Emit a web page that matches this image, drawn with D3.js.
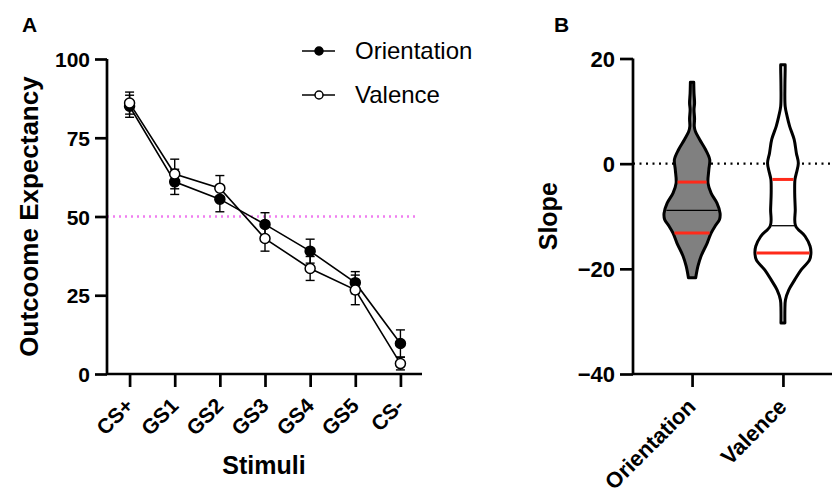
<!DOCTYPE html>
<html>
<head>
<meta charset="utf-8">
<script src="https://cdn.jsdelivr.net/npm/d3@7"></script>
<style>
  body { margin: 0; background: #fff; }
  text { font-family: "Liberation Sans", Arial, sans-serif; fill: #000; }
</style>
</head>
<body>
<div id="chart"></div>
<script>
// panel A data
const stimuli = ["CS+", "GS1", "GS2", "GS3", "GS4", "GS5", "CS-"];
const orientationMean = [85, 61, 55.5, 47.5, 39, 29, 9.7];
const orientationErr = [3.5, 4, 4, 3.7, 3.8, 3.5, 4.3];
const valenceMean = [86, 63.5, 59, 43, 33.5, 26.7, 3.3];
const valenceErr = [3.5, 4.7, 4, 4, 3.8, 4.7, 2.0];
const yTicksA = [0, 25, 50, 75, 100];

// panel B data (violin outlines: value, relative density)
const groups = ["Orientation", "Valence"];
const orientationViolin = [
  [15.5, 0.06], [13.4, 0.07], [11.5, 0.09], [10.3, 0.07], [8.5, 0.09],
  [7.1, 0.08], [6.1, 0.12], [4.6, 0.27], [2.7, 0.48], [0.8, 0.63],
  [-1.1, 0.60], [-3.7, 0.57], [-5.6, 0.68], [-7.5, 0.89], [-9.4, 1.0],
  [-10.6, 0.98], [-11.9, 0.82], [-13.2, 0.68], [-15.1, 0.54], [-17.6, 0.32],
  [-19.5, 0.21], [-21.7, 0.13]
];
const valenceViolin = [
  [18.8, 0.08], [17.9, 0.08], [14.7, 0.07], [10.9, 0.08], [9.0, 0.15],
  [7.1, 0.24], [4.6, 0.40], [2.0, 0.48], [0.1, 0.55], [-1.8, 0.48],
  [-3.0, 0.43], [-5.6, 0.42], [-8.7, 0.44], [-11.8, 0.45], [-13.8, 0.79],
  [-15.7, 0.97], [-17.0, 1.0], [-18.3, 0.95], [-20.2, 0.65], [-22.1, 0.42],
  [-24.0, 0.21], [-25.9, 0.09], [-27.8, 0.07], [-30.3, 0.07]
];
const medians = [-8.9, -11.8];
const quartiles = [[-3.5, -13.2], [-3.0, -17.0]];
const yTicksB = [-40, -20, 0, 20];

const width = 832, height = 495;
const svg = d3.select("#chart").append("svg")
  .attr("width", width).attr("height", height);

// ---------- panel A ----------
const xA = d3.scalePoint().domain(stimuli).range([107, 423]).padding(0.5);
const yA = d3.scaleLinear().domain([0, 100]).range([374, 59]);

const gA = svg.append("g");

gA.append("line")
  .attr("x1", 107).attr("x2", 418)
  .attr("y1", yA(50)).attr("y2", yA(50))
  .attr("stroke", "#f07ef0").attr("stroke-width", 2.5)
  .attr("stroke-dasharray", "2,4");

const yAxisA = gA.append("g").attr("transform", "translate(107,0)")
  .call(d3.axisLeft(yA).tickValues(yTicksA).tickSize(12).tickPadding(5));
const xAxisA = gA.append("g").attr("transform", "translate(0,374)")
  .call(d3.axisBottom(xA).tickSize(13).tickFormat(""));

[yAxisA, xAxisA].forEach(ax => {
  ax.select(".domain").attr("stroke-width", 2.7);
  ax.selectAll(".tick line").attr("stroke-width", 2.7);
});
yAxisA.select(".domain").attr("d", "M0,59V374");
xAxisA.select(".domain").attr("d", "M107,0H422");
yAxisA.selectAll(".tick text")
  .style("font-size", "21px").style("font-weight", "bold").attr("dy", "0.36em");

gA.selectAll(".xlab").data(stimuli).join("text")
  .attr("transform", d => `translate(${xA(d) + 5},407) rotate(-45)`)
  .attr("text-anchor", "end")
  .style("font-size", "21px").style("font-weight", "bold")
  .text(d => d);

gA.append("text")
  .attr("transform", `translate(38,${(59 + 374) / 2}) rotate(-90)`)
  .attr("text-anchor", "middle")
  .style("font-size", "26px").style("font-weight", "bold")
  .text("Outcoome Expectancy");

gA.append("text")
  .attr("x", 264).attr("y", 474).attr("text-anchor", "middle")
  .style("font-size", "25px").style("font-weight", "bold")
  .text("Stimuli");

const line = d3.line().x(d => xA(d.s)).y(d => yA(d.m));
const series = [
  { name: "Orientation", mean: orientationMean, err: orientationErr, fill: "#000" },
  { name: "Valence", mean: valenceMean, err: valenceErr, fill: "#fff" }
];

series.forEach(s => {
  const pts = stimuli.map((st, i) => ({ s: st, m: s.mean[i], e: s.err[i] }));
  gA.append("path").datum(pts)
    .attr("fill", "none").attr("stroke", "#000").attr("stroke-width", 1.6)
    .attr("d", line);
  const eb = gA.append("g").selectAll("g").data(pts).join("g");
  eb.append("line")
    .attr("x1", d => xA(d.s)).attr("x2", d => xA(d.s))
    .attr("y1", d => yA(d.m - d.e)).attr("y2", d => yA(d.m + d.e))
    .attr("stroke", "#000").attr("stroke-width", 1.4);
  [-1, 1].forEach(sign => {
    eb.append("line")
      .attr("x1", d => xA(d.s) - 4.5).attr("x2", d => xA(d.s) + 4.5)
      .attr("y1", d => yA(d.m + sign * d.e)).attr("y2", d => yA(d.m + sign * d.e))
      .attr("stroke", "#000").attr("stroke-width", 1.4);
  });
  s.pts = pts;
});
series.forEach(s => {
  gA.append("g").selectAll("circle").data(s.pts).join("circle")
    .attr("cx", d => xA(d.s)).attr("cy", d => yA(d.m)).attr("r", 5)
    .attr("fill", s.fill).attr("stroke", "#000").attr("stroke-width", 1.5);
});

// legend
series.forEach((s, i) => {
  const ly = 51 + i * 44;
  gA.append("line").attr("x1", 302).attr("x2", 335).attr("y1", ly).attr("y2", ly)
    .attr("stroke", "#000").attr("stroke-width", 1.6);
  gA.append("circle").attr("cx", 319).attr("cy", ly).attr("r", 4)
    .attr("fill", s.fill).attr("stroke", "#000").attr("stroke-width", 1.5);
  gA.append("text").attr("x", 355).attr("y", ly).attr("dy", "0.35em")
    .style("font-size", "24px").text(s.name);
});

svg.append("text").attr("x", 22).attr("y", 32)
  .style("font-size", "21px").style("font-weight", "bold").text("A");
svg.append("text").attr("x", 554).attr("y", 32)
  .style("font-size", "21px").style("font-weight", "bold").text("B");

// ---------- panel B ----------
const xB = d3.scalePoint().domain(groups).range([633, 842]).padding(0.65);
const yB = d3.scaleLinear().domain([-40, 20]).range([374, 58.5]);
const wB = d3.scaleLinear().domain([0, 1]).range([0, 28]);

const gB = svg.append("g");

gB.append("line")
  .attr("x1", 633).attr("x2", width)
  .attr("y1", yB(0)).attr("y2", yB(0))
  .attr("stroke", "#000").attr("stroke-width", 2.2)
  .attr("stroke-dasharray", "2,4.5");

const violins = [orientationViolin, valenceViolin];
const fills = ["#808080", "#fff"];

violins.forEach((prof, i) => {
  const cx = xB(groups[i]);
  const area = d3.area()
    .y(d => yB(d[0]))
    .x0(d => cx - wB(d[1]))
    .x1(d => cx + wB(d[1]))
    .curve(d3.curveCatmullRom);
  gB.append("path").datum(prof)
    .attr("d", area)
    .attr("fill", fills[i]).attr("stroke", "#000").attr("stroke-width", 3)
    .attr("stroke-linejoin", "round");

  const dens = d3.scaleLinear().domain(prof.map(d => d[0])).range(prof.map(d => d[1]));
  const hw = v => wB(dens(v)) - 1.5;
  gB.append("line")
    .attr("x1", cx - hw(medians[i])).attr("x2", cx + hw(medians[i]))
    .attr("y1", yB(medians[i])).attr("y2", yB(medians[i]))
    .attr("stroke", "#000").attr("stroke-width", 1.3);
  quartiles[i].forEach(q => {
    gB.append("line")
      .attr("x1", cx - hw(q)).attr("x2", cx + hw(q))
      .attr("y1", yB(q)).attr("y2", yB(q))
      .attr("stroke", "#ff2a1a").attr("stroke-width", 3);
  });
});

const yAxisB = gB.append("g").attr("transform", "translate(633,0)")
  .call(d3.axisLeft(yB).tickValues(yTicksB).tickSize(13).tickPadding(5));
const xAxisB = gB.append("g").attr("transform", "translate(0,374)")
  .call(d3.axisBottom(xB).tickSize(13).tickFormat(""));
[yAxisB, xAxisB].forEach(ax => {
  ax.select(".domain").attr("stroke-width", 2.7);
  ax.selectAll(".tick line").attr("stroke-width", 2.7);
});
yAxisB.select(".domain").attr("d", "M0,58.5V374");
xAxisB.select(".domain").attr("d", `M633,0H${width}`);
yAxisB.selectAll(".tick text")
  .style("font-size", "22px").style("font-weight", "bold").attr("dy", "0.36em");

gB.selectAll(".xlab").data(groups).join("text")
  .attr("transform", d => `translate(${xB(d) + 5},408) rotate(-45)`)
  .attr("text-anchor", "end")
  .style("font-size", "22px").style("font-weight", "bold")
  .text(d => d);

gB.append("text")
  .attr("transform", `translate(557,${(58.5 + 374) / 2}) rotate(-90)`)
  .attr("text-anchor", "middle")
  .style("font-size", "25px").style("font-weight", "bold")
  .text("Slope");
</script>
</body>
</html>
